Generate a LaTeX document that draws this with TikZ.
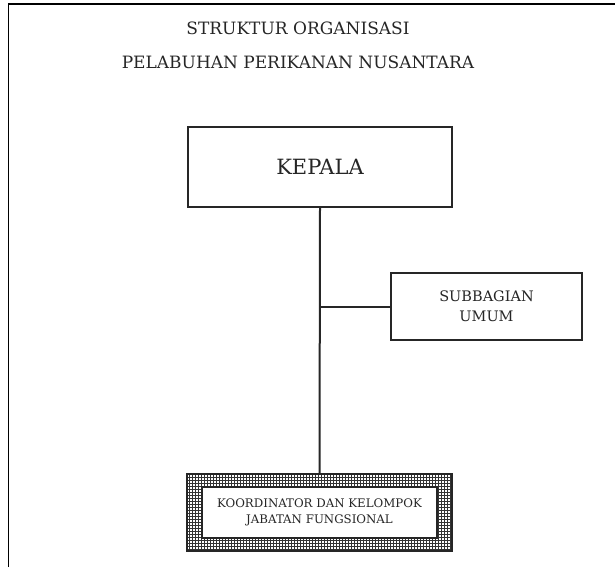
\documentclass[tikz,border=0pt]{standalone}
\usepackage{fontspec}
\setmainfont{DejaVu Serif}
\usetikzlibrary{patterns}

\tikzset{
	unitbox/.style={draw=black!85, line width=1.5pt, fill=white, align=center, inner sep=0pt, text=black!85},
	penghubung/.style={draw=black!85, line width=2pt},
}

\begin{document}
\begin{tikzpicture}[x=1pt, y=-1pt]
			\useasboundingbox (0,0) rectangle (615,567);
			% bingkai
			\coordinate (bkiri) at (8.5,567);
			\coordinate (batas) at (8.5,4);
			\coordinate (bkanan) at (615,4);
			\draw[line width=1.6pt] (bkiri) -- (batas) -- (bkanan);
			% judul
			\node[font=\fontsize{17}{18}\selectfont, text=black!85] (judul1) at (298,28) {STRUKTUR ORGANISASI};
			\node[font=\fontsize{17}{18}\selectfont, text=black!85] (judul2) at (298,62) {PELABUHAN PERIKANAN NUSANTARA};
			% kotak
			\node[unitbox, minimum width=264pt, minimum height=80pt, font=\fontsize{21}{22}\selectfont] (kepala) at (320,167)
				{KEPALA};
			\node[unitbox, minimum width=191pt, minimum height=67pt, font=\fontsize{14.5}{20}\selectfont] (subbagian) at (486.5,306.5)
				{SUBBAGIAN\\UMUM};
			\node[draw=black!85, line width=1.2pt, pattern=grid, pattern color=black!80,
				minimum width=265pt, minimum height=77pt, inner sep=0pt] (jafungluar) at (319.5,512.5) {};
			\node[unitbox, minimum width=235pt, minimum height=51pt, font=\fontsize{11.8}{16}\selectfont] (jafung) at (jafungluar.center)
				{KOORDINATOR DAN KELOMPOK\\JABATAN FUNGSIONAL};
			% garis
			\draw[penghubung] (kepala.south) -- (jafungluar.north);
			\draw[penghubung] (kepala.south |- subbagian.west) -- (subbagian.west);
\end{tikzpicture}
\end{document}
